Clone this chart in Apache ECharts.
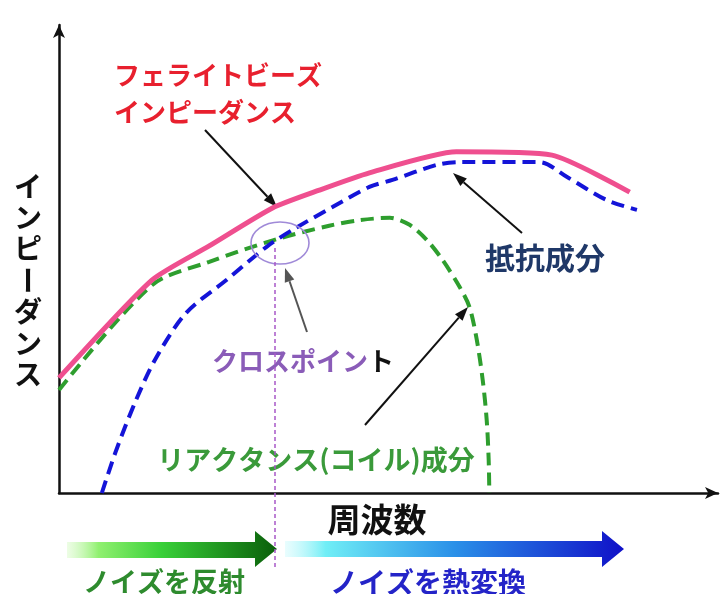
<!DOCTYPE html>
<html>
<head>
<meta charset="utf-8">
<script src="https://cdn.jsdelivr.net/npm/echarts@6/dist/echarts.min.js"></script>
<style>
html,body{margin:0;padding:0;background:#fff;}
#chart{width:720px;height:594px;}
</style>
</head>
<body>
<div id="chart"></div>
<script>
// ---- data (frequency / impedance, arbitrary units 0-100) ----
const impedanceFreq = [0, 14.1, 22.8, 32.4, 39.5, 47.1, 60.3, 74.8, 86.6];
const impedanceVal  = [24.6, 45.5, 52.8, 60.9, 64.7, 68.4, 72.9, 72.2, 64.3];

const resistanceFreq = [6.5, 8.7, 11.7, 14.7, 19.3, 25.4, 31.5, 35.4, 41.5, 47.1, 50.6, 57.3, 60.8, 72.9, 77.1, 83.1, 87.7];
const resistanceVal  = [0, 9.2, 19.9, 28.8, 38.5, 45.5, 52.6, 56.2, 61.1, 65.4, 66.9, 70.1, 70.7, 70.7, 67.5, 62.6, 60.5];

const reactanceFreq = [0, 14.1, 22.8, 32.7, 41.0, 45.6, 50.2, 53.2, 55.8, 58.2, 60.8, 62.3, 63.4, 64.3, 64.9, 65.2, 65.3];
const reactanceVal  = [22.0, 44.4, 49.4, 54.1, 57.1, 58.3, 58.8, 57.3, 54.1, 49.8, 44.0, 39.7, 32.7, 24.1, 15.6, 7.1, 0];

const yAxisTitle = 'インピーダンス';
const xAxisTitle = '周波数';

function pairs(xs, ys){ return xs.map((x,i)=>[x, ys[i]]); }

const FONT = '"Noto Sans CJK JP", "Noto Sans", sans-serif';

function arrow(x1,y1,x2,y2,color,w,hl,hw){
  const a = Math.atan2(y2-y1, x2-x1);
  const bx = x2 - hl*Math.cos(a), by = y2 - hl*Math.sin(a);
  const px = -Math.sin(a)*hw/2, py = Math.cos(a)*hw/2;
  return [
    {type:'line', shape:{x1:x1,y1:y1,x2:bx,y2:by}, style:{stroke:color, lineWidth:w}, silent:true},
    {type:'polygon', shape:{points:[[x2,y2],[bx+px,by+py],[bx-px,by-py]]}, style:{fill:color}, silent:true}
  ];
}

const chart = echarts.init(document.getElementById('chart'), null, {renderer:'canvas'});

const axisCommon = {
  type:'value', min:0, max:100,
  axisLine:{show:true, symbol:['none','arrow'], symbolSize:[9,13], lineStyle:{color:'#111', width:2.5}},
  axisTick:{show:false}, axisLabel:{show:false}, splitLine:{show:false}
};

// vertical y-axis title, one glyph per line
const yTitleEls = yAxisTitle.split('').map((ch,i)=>({
  type:'text', x:28, y:186 + i*31.4,
  rotation: ch === 'ー' ? -Math.PI/2 : 0,
  style:{text:ch, font:'bold 28px ' + FONT, fill:'#111', textAlign:'center', textVerticalAlign:'middle'},
  silent:true
}));

const graphics = [].concat(
  yTitleEls,
  [
    {type:'text', x:114, y:75, style:{text:'フェライトビーズ', font:'bold 26px '+FONT, fill:'#e8202e', textAlign:'left', textVerticalAlign:'middle'}},
    {type:'text', x:114, y:112, style:{text:'インピーダンス', font:'bold 26px '+FONT, fill:'#e8202e', textAlign:'left', textVerticalAlign:'middle'}},
    {type:'text', x:545, y:258, style:{text:'抵抗成分', font:'bold 30px '+FONT, fill:'#1f3868', textAlign:'center', textVerticalAlign:'middle'}},
    {type:'text', x:212, y:361, style:{text:'{p|クロスポイン}{k|ト}', textAlign:'left', textVerticalAlign:'middle',
      rich:{p:{font:'bold 26px '+FONT, fill:'#8a5cb8'}, k:{font:'bold 26px '+FONT, fill:'#111'}}}},
    {type:'text', x:316, y:460, style:{text:'リアクタンス(コイル)成分', font:'bold 27px '+FONT, fill:'#3a9a3a', textAlign:'center', textVerticalAlign:'middle'}},
    {type:'text', x:377, y:519, style:{text:xAxisTitle, font:'bold 33px '+FONT, fill:'#111', textAlign:'center', textVerticalAlign:'middle'}},
    {type:'text', x:164, y:582, style:{text:'ノイズを反射', font:'bold 27px '+FONT, fill:'#2e8b2e', textAlign:'center', textVerticalAlign:'middle'}},
    {type:'text', x:428, y:582, style:{text:'ノイズを熱変換', font:'bold 28px '+FONT, fill:'#2424c8', textAlign:'center', textVerticalAlign:'middle'}},
    // crossing point marker
    {type:'ellipse', shape:{cx:280, cy:243, rx:29, ry:21}, style:{fill:'none', stroke:'#a08ad8', lineWidth:1.6}, z:10},
    {type:'line', shape:{x1:275, y1:248, x2:275, y2:568}, style:{stroke:'#a858c8', lineWidth:1.5, lineDash:[4,3]}, z:10},
    // gradient arrows
    {type:'polygon', shape:{points:[[67,542],[255,542],[255,531],[277,549],[255,567],[255,558],[67,558]]},
      style:{fill:new echarts.graphic.LinearGradient(0,0,1,0,[
        {offset:0, color:'rgba(210,250,190,0.4)'},{offset:0.15, color:'#90f070'},{offset:0.45, color:'#38d038'},{offset:1, color:'#0a5e0a'}])}},
    {type:'polygon', shape:{points:[[285,541],[602,541],[602,531],[624,549],[602,567],[602,557],[285,557]]},
      style:{fill:new echarts.graphic.LinearGradient(0,0,1,0,[
        {offset:0, color:'rgba(200,250,252,0.4)'},{offset:0.12, color:'#70eef6'},{offset:0.5, color:'#2a90e8'},{offset:1, color:'#1010c8'}])}}
  ],
  arrow(205,130,277,207,'#111',2,14,10),
  arrow(307,332,285,268,'#555',2,14,10),
  arrow(522,233,453,173,'#111',2,14,10),
  arrow(365,425,468,307,'#111',2,14,10)
);

chart.setOption({
  animation:false,
  backgroundColor:'#fff',
  grid:{left:59, right:2, top:25, bottom:101, containLabel:false},
  xAxis: axisCommon,
  yAxis: axisCommon,
  series:[
    {name:'リアクタンス(コイル)成分', type:'line', data:pairs(reactanceFreq, reactanceVal), showSymbol:false, smooth:0.3,
      lineStyle:{color:'#2e9e2e', width:4, type:[13,7]}, z:2},
    {name:'抵抗成分', type:'line', data:pairs(resistanceFreq, resistanceVal), showSymbol:false, smooth:0.3,
      lineStyle:{color:'#1414d8', width:4, type:[13,7]}, z:3},
    {name:'フェライトビーズインピーダンス', type:'line', data:pairs(impedanceFreq, impedanceVal), showSymbol:false, smooth:0.2,
      lineStyle:{color:'#ef4f8f', width:5}, z:4}
  ],
  graphic: graphics
});
</script>
</body>
</html>
